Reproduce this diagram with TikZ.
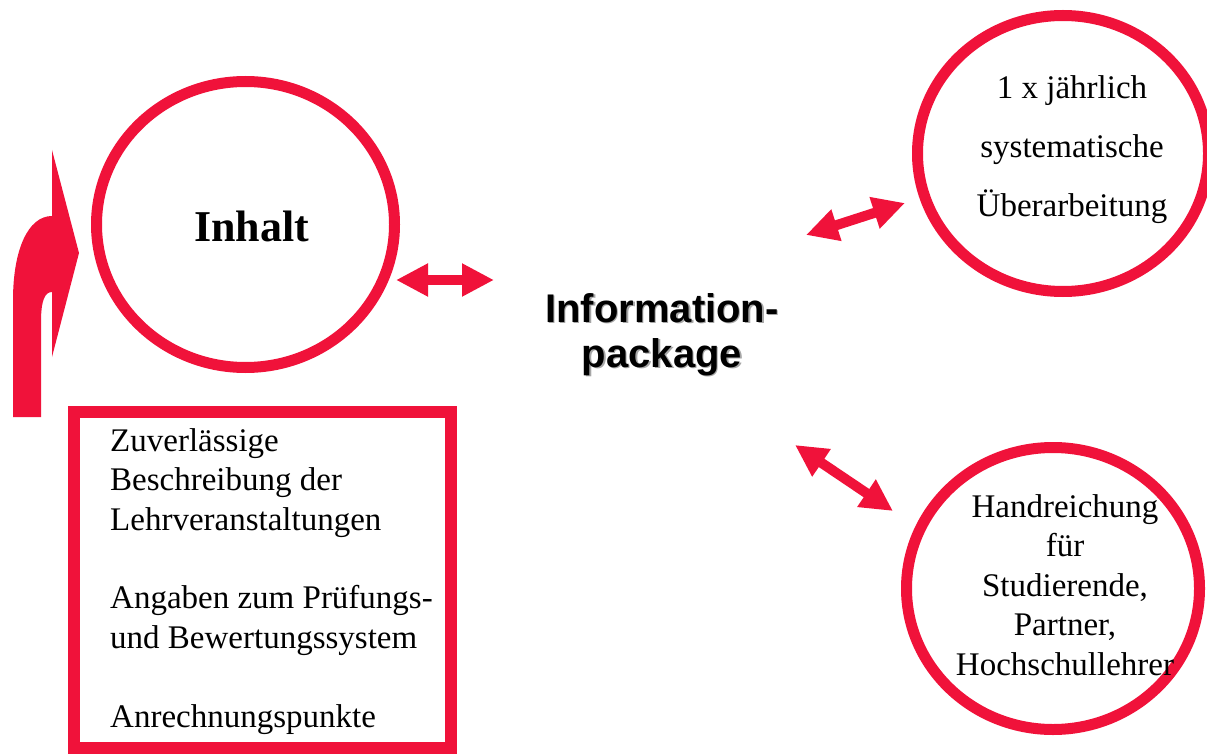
\documentclass[tikz,border=0pt]{standalone}
\usepackage{fontspec}
\setmainfont{Liberation Serif}
\newfontfamily\headfont{Liberation Sans}
\usetikzlibrary{arrows.meta}
\definecolor{ipred}{RGB}{240,18,58}
\tikzset{
  ring/.style = {draw = ipred, line width = 11pt},
  twoway/.style = {ipred, line width = 10pt,
    {Triangle[length = 32pt, width = 31pt]}-{Triangle[length = 32pt, width = 31pt]}},
  circtext/.style = {font = \fontsize{33}{39.4}\selectfont, align = center, inner sep = 0pt},
}
\begin{document}
\begin{tikzpicture}[x = 1pt, y = -1pt]
    \useasboundingbox (0, 0) rectangle (1207, 754);
    \clip (0, 0) rectangle (1207, 754);
    \draw[ring] (245.5, 224.5) ellipse (149 and 143);
    \draw[ring] (1063, 153.5) ellipse (145.5 and 138);
    \draw[ring] (1053, 588.5) ellipse (146.5 and 141);
    \draw[ring, line width = 11.5pt] (74, 412) rectangle (451, 748);
    % bent arrow on the left
    \fill[ipred] (13, 417) -- (13, 300) .. controls (13, 250) and (28, 216) .. (52, 216)
      -- (52, 150) -- (79, 253) -- (52, 357) -- (52, 292)
      .. controls (45, 292) and (41, 300) .. (41, 322) -- (41, 417) -- cycle;
    % anchor = base is the last line of each text
    \node[anchor = base, inner sep = 0pt, font = \bfseries\fontsize{44}{50}\selectfont] (inh) at (251.5, 241.7) {Inhalt};
    \node[circtext, anchor = base, font = \fontsize{33}{59.5}\selectfont] (rev) at (1072, 217) {1 x jährlich\\systematische\\Überarbeitung};
    \node[circtext, anchor = base] (hand) at (1065, 675) {Handreichung\\für\\Studierende,\\Partner,\\Hochschullehrer};
    \node[circtext, align = left, anchor = base west] (facts) at (110, 727)
      {Zuverlässige\\Beschreibung der\\Lehrveranstaltungen\\[39.4pt]Angaben zum Prüfungs-\\und Bewertungssystem\\[39.4pt]Anrechnungspunkte};
    \node[anchor = base, align = center, inner sep = 0pt, text = black!35,
      font = \headfont\bfseries\fontsize{40}{45}\selectfont] at (663.5, 368.5) {Information-\\package};
    \node[anchor = base, align = center, inner sep = 0pt,
      font = \headfont\bfseries\fontsize{40}{45}\selectfont] (info) at (662, 367) {Information-\\package};
    \coordinate (inhE) at (396, 280);  \coordinate (infoW) at (494, 280);
    \coordinate (infoNE) at (806, 235); \coordinate (revW) at (905, 203);
    \coordinate (infoSE) at (795, 445); \coordinate (handW) at (893, 511);
    \draw[twoway] (inhE) -- (infoW);
    \draw[twoway] (infoNE) -- (revW);
    \draw[twoway] (infoSE) -- (handW);
    %\draw[ring] (1053, 588.5) circle (145);
\end{tikzpicture}
\end{document}
